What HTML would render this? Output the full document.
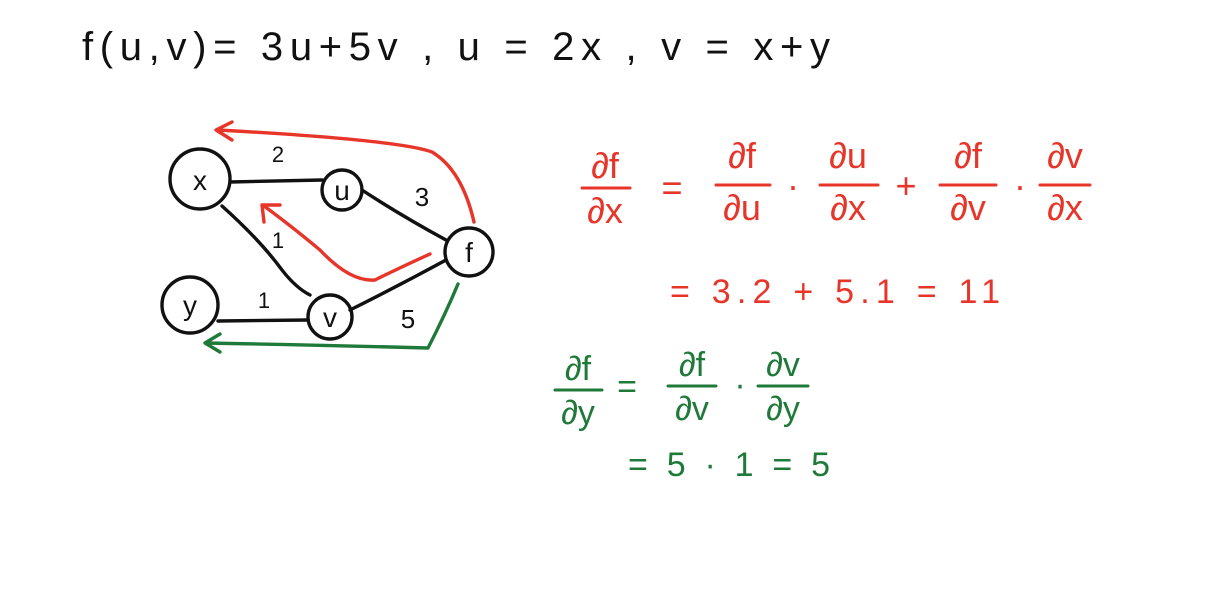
<!DOCTYPE html>
<html><head><meta charset="utf-8"><style>
html,body{margin:0;padding:0;background:#fff;}
svg{display:block;}
text{font-family:"Liberation Sans",sans-serif;}
</style></head><body>
<svg width="1224" height="592" viewBox="0 0 1224 592">
<rect width="1224" height="592" fill="#fff"/>
<text x="82" y="60" font-size="40" fill="#111" textLength="748" lengthAdjust="spacing">f(u,v)= 3u+5v  ,  u = 2x  ,  v = x+y</text>

<g stroke="#111" stroke-width="3.4" fill="none" stroke-linecap="round">
 <path d="M230 182 L322 180"/>
 <path d="M362 190 Q400 215 446 240"/>
 <path d="M222 206 Q260 240 282 270 Q296 288 310 295"/>
 <path d="M218 321 L308 320"/>
 <path d="M350 310 Q400 285 446 260"/>
 <circle cx="200" cy="179" r="30"/>
 <circle cx="342" cy="190" r="20"/>
 <circle cx="469" cy="252" r="24"/>
 <circle cx="190" cy="305" r="28"/>
 <circle cx="330" cy="317" r="22"/>
</g>
<g fill="#111" font-size="28" text-anchor="middle">
 <text x="200" y="190">x</text>
 <text x="342" y="200">u</text>
 <text x="469" y="262">f</text>
 <text x="190" y="315">y</text>
 <text x="330" y="327">v</text>
 <text x="278" y="162" font-size="22">2</text>
 <text x="422" y="206" font-size="26">3</text>
 <text x="278" y="248" font-size="22">1</text>
 <text x="264" y="308" font-size="22">1</text>
 <text x="408" y="328" font-size="26">5</text>
</g>

<g stroke="#e8352a" stroke-width="3.4" fill="none" stroke-linecap="round" stroke-linejoin="round">
 <path d="M474 222 Q462 170 432 152 Q400 140 218 130 M232 122 L216 130 L232 140"/>
 <path d="M430 254 Q395 270 375 280 Q350 282 320 250 Q290 225 264 206 M264 222 L262 205 L280 205"/>
</g>
<g stroke="#1f7a3a" stroke-width="3.4" fill="none" stroke-linecap="round" stroke-linejoin="round">
 <path d="M458 284 Q445 315 428 348 Q320 345 206 343 M220 334 L205 343 L220 352"/>
</g>

<g fill="#e8352a" font-size="36" text-anchor="middle">
 <text x="605" y="178">∂f</text><text x="605" y="223">∂x</text>
 <text x="672" y="200">=</text>
 <text x="742" y="168">∂f</text><text x="742" y="220">∂u</text>
 <text x="793" y="198">·</text>
 <text x="848" y="168">∂u</text><text x="848" y="220">∂x</text>
 <text x="906" y="198">+</text>
 <text x="968" y="168">∂f</text><text x="968" y="220">∂v</text>
 <text x="1020" y="198">·</text>
 <text x="1065" y="168">∂v</text><text x="1065" y="220">∂x</text>
 <text x="670" y="303" font-size="34" text-anchor="start" textLength="330" lengthAdjust="spacing">=  3.2 + 5.1 = 11</text>
</g>
<g stroke="#e8352a" stroke-width="3" stroke-linecap="round">
 <line x1="582" y1="188" x2="630" y2="188"/><line x1="716" y1="185" x2="770" y2="185"/>
 <line x1="820" y1="185" x2="878" y2="185"/><line x1="940" y1="185" x2="996" y2="185"/>
 <line x1="1040" y1="185" x2="1090" y2="185"/>
</g>

<g fill="#1f7a3a" font-size="34" text-anchor="middle">
 <text x="578" y="380">∂f</text><text x="578" y="424">∂y</text>
 <text x="627" y="398">=</text>
 <text x="692" y="376">∂f</text><text x="692" y="420">∂v</text>
 <text x="740" y="396">·</text>
 <text x="783" y="376">∂v</text><text x="783" y="420">∂y</text>
 <text x="628" y="476" font-size="34" text-anchor="start" textLength="202" lengthAdjust="spacing">= 5 · 1 = 5</text>
</g>
<g stroke="#1f7a3a" stroke-width="3" stroke-linecap="round">
 <line x1="555" y1="390" x2="602" y2="390"/><line x1="668" y1="386" x2="716" y2="386"/>
 <line x1="758" y1="386" x2="808" y2="386"/>
</g>
</svg>
</body></html>
